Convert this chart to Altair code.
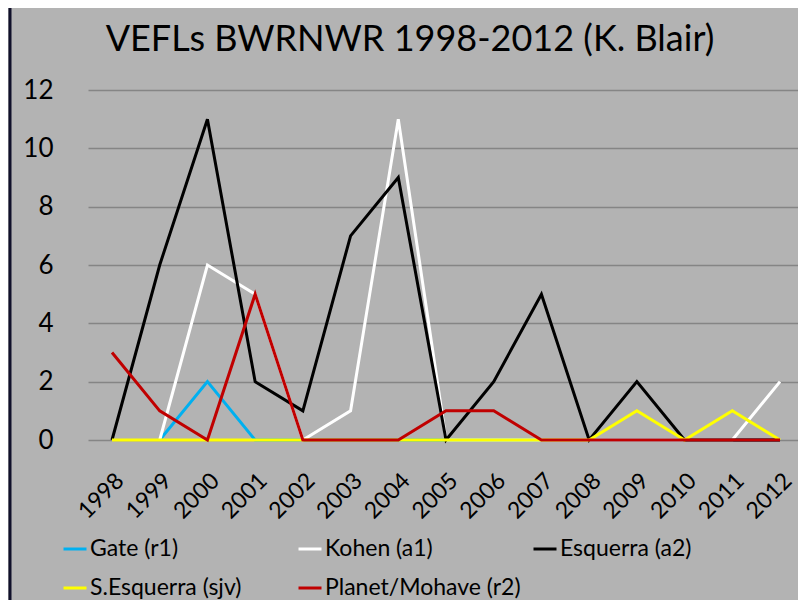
import altair as alt
import pandas as pd

years = list(range(1998, 2013))
series_names = ["Gate (r1)", "Kohen (a1)", "Esquerra (a2)", "S.Esquerra (sjv)", "Planet/Mohave (r2)"]
series_colors = ["#00B0F0", "#FFFFFF", "#000000", "#FFFF00", "#C00000"]

gate = [None, 0, 2, 0, 0, 0, 0, 0, 0, 0, 0, 0, 0, 0, 0]
kohen = [None, 0, 6, 5, 0, 1, 11, 0, 0, 0, 0, 0, 0, 0, 2]
esquerra = [0, 6, 11, 2, 1, 7, 9, 0, 2, 5, 0, 2, 0, 0, 0]
s_esquerra = [0, 0, 0, 0, 0, 0, 0, 0, 0, 0, 0, 1, 0, 1, 0]
planet = [3, 1, 0, 5, 0, 0, 0, 1, 1, 0, 0, 0, 0, 0, 0]

all_values = [gate, kohen, esquerra, s_esquerra, planet]

rows = []
for name, vals in zip(series_names, all_values):
    for yr, v in zip(years, vals):
        if v is not None:
            rows.append({"Year": yr, "Value": v, "Series": name})
df = pd.DataFrame(rows)

FONT = "Lato"

color = alt.Color(
    "Series:N",
    scale=alt.Scale(domain=series_names, range=series_colors),
    legend=alt.Legend(
        title=None,
        orient="none",
        legendX=-26,
        legendY=446,
        direction="horizontal",
        columns=3,
        gridAlign="all",
        columnPadding=6,
        rowPadding=14,
        symbolType="stroke",
        symbolSize=529,
        symbolStrokeWidth=3,
        labelFont=FONT,
        labelFontSize=23,
        labelColor="#000000",
        labelOffset=2,
        labelLimit=400,
    ),
)

x = alt.X(
    "Year:Q",
    scale=alt.Scale(domain=[1997.497, 2012.377], nice=False, zero=False),
    axis=alt.Axis(
        values=years,
        format="d",
        labelAngle=-45,
        labelFont=FONT,
        labelFontSize=23,
        labelColor="#000000",
        labelOverlap=False,
        grid=False,
        domain=False,
        ticks=False,
        labelPadding=29,
        title=None,
    ),
)
y = alt.Y(
    "Value:Q",
    scale=alt.Scale(domain=[0, 12], nice=False),
    axis=alt.Axis(
        values=[0, 2, 4, 6, 8, 10, 12],
        labelFont=FONT,
        labelFontSize=26,
        labelColor="#000000",
        grid=True,
        gridColor="#858585",
        gridWidth=1.5,
        domain=False,
        ticks=False,
        labelPadding=35,
        title=None,
    ),
)

layers = []
for name in series_names:
    layers.append(
        alt.Chart(df)
        .transform_filter(alt.datum.Series == name)
        .mark_line(strokeWidth=3)
        .encode(x=x, y=y, color=color)
    )

# left frame edge of the chart area
frame = alt.Chart(pd.DataFrame({"a": [0]})).mark_rule(color="#10102a", strokeWidth=3).encode(
    x=alt.value(-78), y=alt.value(-82), y2=alt.value(520)
)

chart = (
    alt.layer(*layers, frame)
    .properties(
        width=710,
        height=350,
        autosize=alt.AutoSizeParams(type="none"),
        padding={"left": 80, "top": 82, "right": 0, "bottom": 160},
        title=alt.Title(
            "VEFLs BWRNWR 1998-2012 (K. Blair)",
            font=FONT,
            fontSize=36,
            fontWeight="normal",
            color="#000000",
            anchor="middle",
            frame="group",
            dx=-33,
            dy=52,
            offset=0,
        ),
        background="#B3B3B3",
    )
    .configure_view(stroke=None)
)

chart.save("out.html", embed_options={"renderer": "svg", "actions": False})
